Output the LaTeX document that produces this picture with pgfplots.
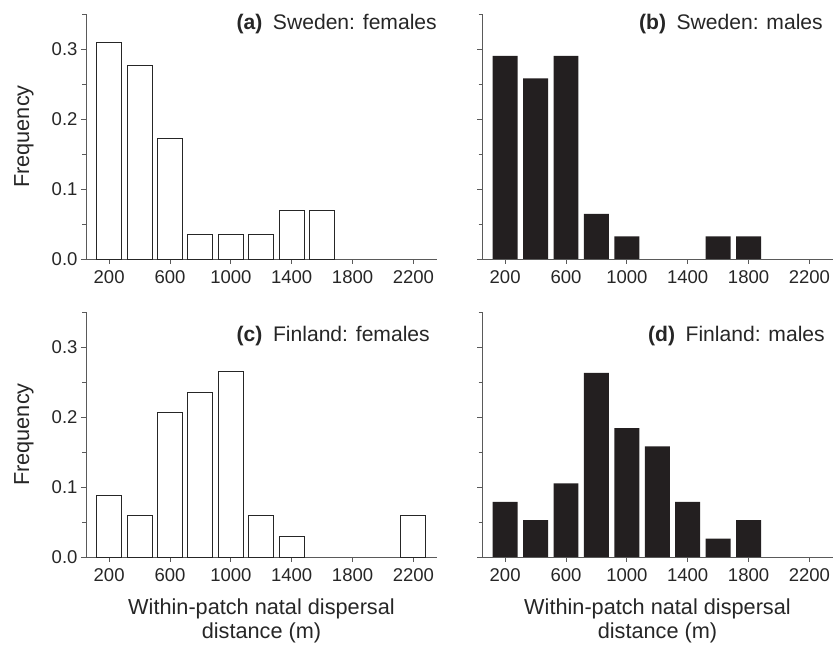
\documentclass[border=0pt]{standalone}
\usepackage{pgfplots}
\pgfplotsset{compat=1.18}
\usepgfplotslibrary{groupplots}
\usepackage{fontspec}
\setmainfont{Liberation Sans}
\definecolor{barblack}{HTML}{231F20}
\definecolor{axgray}{HTML}{5A5A5A}
\pgfplotsset{
 whitebar/.style={ybar, bar width=164, bar shift=0pt, fill=white, draw=black!85, line width=0.9pt},
 blackbar/.style={ybar, bar width=164, bar shift=0pt, fill=barblack, draw=none},
}
\tikzset{ptitle/.style={anchor=north east, inner sep=0pt, font=\fontsize{21.1}{24}\selectfont, text=black!85}}
\begin{document}
\begin{tikzpicture}
\begin{groupplot}[
 group style={group size=2 by 2, horizontal sep=45pt, vertical sep=53pt},
 scale only axis, width=351pt, height=245pt,
 xmin=48, xmax=2355, ymin=0, ymax=0.35,
 axis x line=bottom, axis y line=left,
 axis line style={axgray, line width=0.9pt, -},
 tick align=outside, tick style={axgray, line width=0.9pt},
 major tick length=5pt, minor tick length=3.5pt,
 xtick={200,600,1000,1400,1800,2200},
 ytick={0,0.1,0.2,0.3}, minor ytick={0.05,0.15,0.25,0.35},
 yticklabel style={/pgf/number format/.cd, fixed, fixed zerofill, precision=1},
 xticklabel style={yshift=-3.5pt},
 /pgf/number format/assume math mode=true,
 /pgf/number format/1000 sep={},
 tick label style={font=\fontsize{18.5}{20}\selectfont, text=black!85},
 label style={font=\fontsize{21.7}{24}\selectfont, text=black!85},
 ylabel style={at={(axis description cs:-0.177,0.5)}, anchor=center},
 xlabel style={at={(axis description cs:0.5,0)}, yshift=-64pt, anchor=center, align=center},
 clip=false,
]
\nextgroupplot[ylabel={Frequency}]
\addplot[whitebar] coordinates {(200,0.310) (400,0.276) (600,0.172) (800,0.0345) (1000,0.0345) (1200,0.0345) (1400,0.069) (1600,0.069)};
\node[ptitle] at (rel axis cs:1,1) [yshift=0pt] {\textbf{(a)}\enspace Sweden: females};

\nextgroupplot[yticklabels={}]
\addplot[blackbar] coordinates {(200,0.290) (400,0.258) (600,0.290) (800,0.0645) (1000,0.0323) (1600,0.0323) (1800,0.0323)};
\node[ptitle] at (rel axis cs:1,1) [xshift=-10pt, yshift=0pt] {\textbf{(b)}\enspace Sweden: males};

\nextgroupplot[ylabel={Frequency}, xlabel={Within-patch natal dispersal\\distance (m)}]
\addplot[whitebar] coordinates {(200,0.0882) (400,0.0588) (600,0.206) (800,0.235) (1000,0.265) (1200,0.0588) (1400,0.0294) (2200,0.0588)};
\node[ptitle] at (rel axis cs:1,1) [xshift=-7pt, yshift=-14pt] {\textbf{(c)}\enspace Finland: females};

\nextgroupplot[yticklabels={}, xlabel={Within-patch natal dispersal\\distance (m)}]
\addplot[blackbar] coordinates {(200,0.0789) (400,0.0526) (600,0.105) (800,0.263) (1000,0.184) (1200,0.158) (1400,0.0789) (1600,0.0263) (1800,0.0526)};
\node[ptitle] at (rel axis cs:1,1) [xshift=-8pt, yshift=-14pt] {\textbf{(d)}\enspace Finland: males};
\end{groupplot}
\path (group c1r1.north west) ++(-86pt,14pt) coordinate (bbA);
\path (group c2r2.south east) ++(3pt,-88pt) coordinate (bbB);
\end{tikzpicture}
\end{document}
